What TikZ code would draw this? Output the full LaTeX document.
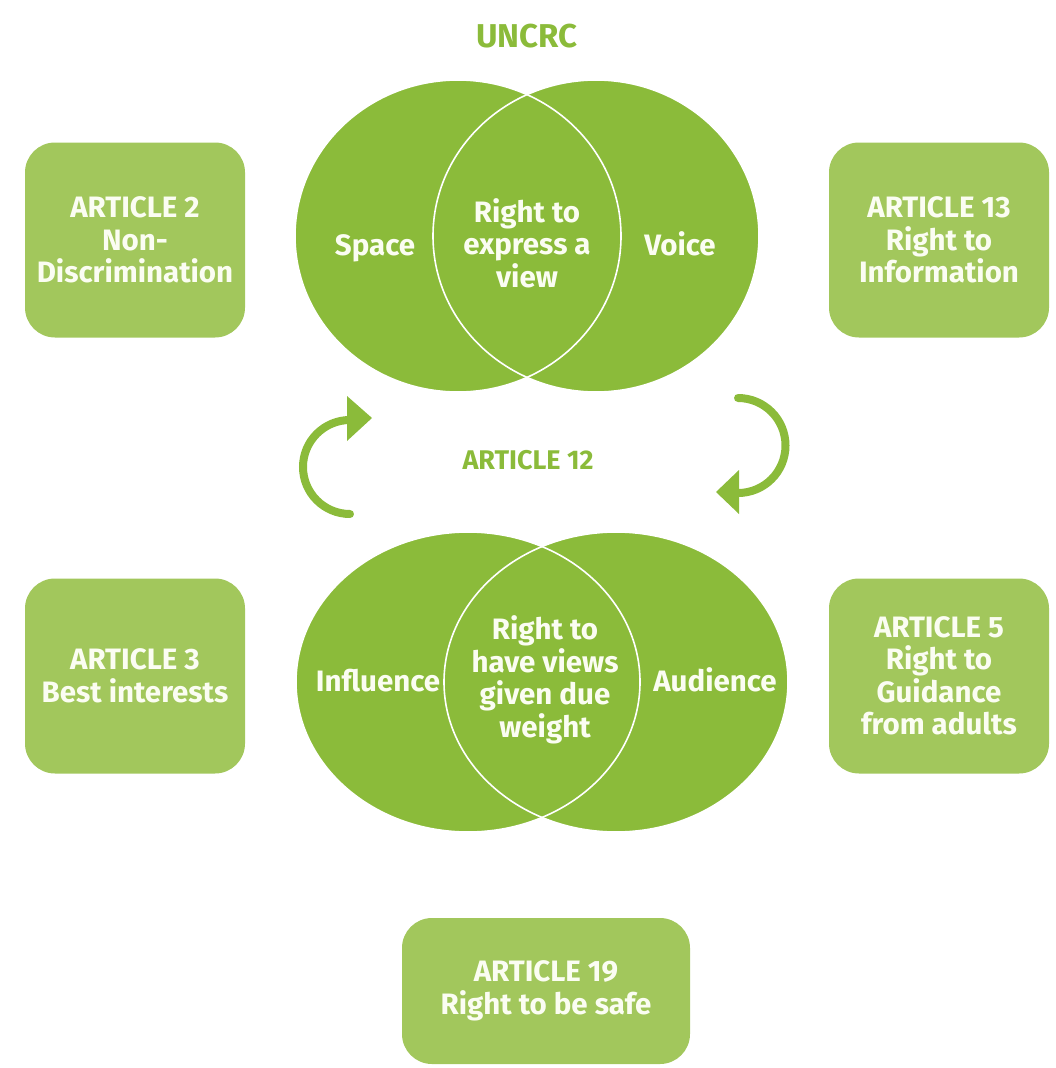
\documentclass[tikz,border=0pt]{standalone}
\usepackage{fontspec}
\setmainfont{Fira Sans}
\usetikzlibrary{shapes.geometric}
\definecolor{dgreen}{HTML}{8BBB3A}
\definecolor{lgreen}{HTML}{A2C75C}
\definecolor{txt}{HTML}{FBFDF2}
\begin{document}
\begin{tikzpicture}[x=1pt,y=-1pt,
  lbl/.style={text=txt,align=center,font=\fontsize{29.5}{32.5}\selectfont\bfseries},
  artbox/.style={fill=lgreen,rounded corners=30pt,minimum width=220pt,minimum height=195pt,inner sep=0pt},
  blob/.style={ellipse,fill=dgreen,inner sep=0pt},
  title/.style={text=dgreen,font=\fontsize{33}{38}\selectfont\bfseries}]
\useasboundingbox (0,0) rectangle (1056,1068);
% titles
\node[title] (uncrc) at (527,36) {UNCRC};
\node[title,font=\fontsize{27}{32}\selectfont\bfseries] (a12) at (528,460) {ARTICLE 12};
% top venn
\node[blob,minimum width=326pt,minimum height=312pt] (space) at (458,236) {};
\node[blob,minimum width=326pt,minimum height=312pt] (voice) at (596,236) {};
\draw[white,line width=1.6pt] (space.center) ellipse [x radius=163,y radius=156];
\draw[white,line width=1.6pt] (voice.center) ellipse [x radius=163,y radius=156];
\node[lbl,anchor=base] (tspace) at (375,255) {Space};
\node[lbl,anchor=base] (tvoice) at (680,255) {Voice};
\node[lbl] (texpr) at (527,243) {Right to\\express a\\view};
% bottom venn
\node[blob,minimum width=344pt,minimum height=300pt] (infl) at (468,682) {};
\node[blob,minimum width=344pt,minimum height=300pt] (aud) at (616,682) {};
\draw[white,line width=1.6pt] (infl.center) ellipse [x radius=172,y radius=150];
\draw[white,line width=1.6pt] (aud.center) ellipse [x radius=172,y radius=150];
\node[lbl,anchor=base] (tinfl) at (378,691) {Influence};
\node[lbl,anchor=base] (taud) at (715,691) {Audience};
\node[lbl] (tweight) at (545,680) {Right to\\have views\\given due\\weight};
% cycle arrows
\draw[dgreen,line width=8pt,line cap=round] (350,514) arc[start angle=90,end angle=270,radius=47];
\fill[dgreen] (372,418) -- (347,396) -- (347,441) -- cycle;
\draw[dgreen,line width=8pt,line cap=round] (738,398) arc[start angle=270,end angle=450,radius=47.5];
\fill[dgreen] (716,492) -- (739,470) -- (739,514) -- cycle;
% article boxes
\node[artbox,lbl] (a2) at (135,240) {ARTICLE 2\\Non-\\Discrimination};
\node[artbox,lbl] (a13) at (939,240) {ARTICLE 13\\Right to\\Information};
\node[artbox,lbl] (a3) at (135,676) {ARTICLE 3\\Best interests};
\node[artbox,lbl] (a5) at (939,676) {ARTICLE 5\\Right to\\Guidance\\from adults};
\node[artbox,lbl,minimum width=288pt,minimum height=146pt] (a19) at (546,991) {ARTICLE 19\\Right to be safe};
\end{tikzpicture}
\end{document}
